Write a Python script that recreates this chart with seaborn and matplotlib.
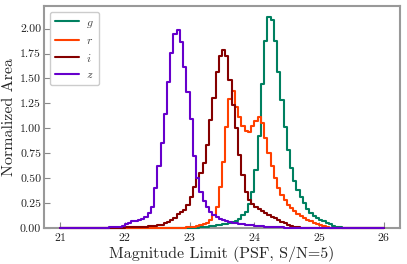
import numpy as np
import pandas as pd
import matplotlib
matplotlib.use('Agg')
import matplotlib.pyplot as plt
import seaborn as sns

# bins: 21.00 .. 26.00 in steps of 0.05 mag
bin_width = 0.05
bin_range = (21.0, 26.0)
bin_centers = np.round(np.arange(21.025, 26.0, bin_width), 3)

# normalized area per bin (100 bins each)
g_area = [0, 0, 0, 0, 0, 0, 0, 0, 0, 0,
          0, 0, 0, 0, 0, 0, 0, 0, 0, 0,
          0, 0, 0, 0, 0, 0, 0, 0, 0, 0,
          0, 0, 0, 0, 0, 0, 0, 0, 0, 0,
          0, 0, 0.005, 0.01, 0.01, 0.015, 0.02, 0.025, 0.03, 0.035,
          0.04, 0.045, 0.05, 0.06, 0.07, 0.09, 0.13, 0.16, 0.24, 0.36,
          0.58, 0.92, 1.44, 1.88, 2.12, 2.09, 1.88, 1.57, 1.28, 1.01,
          0.78, 0.60, 0.47, 0.38, 0.31, 0.25, 0.19, 0.15, 0.12, 0.10,
          0.08, 0.07, 0.05, 0.04, 0.025, 0.015, 0.01, 0.005, 0, 0,
          0, 0, 0, 0, 0, 0, 0, 0, 0, 0]

r_area = [0, 0, 0, 0, 0, 0, 0, 0, 0, 0,
          0, 0, 0, 0, 0, 0, 0, 0, 0, 0,
          0, 0, 0, 0, 0, 0, 0, 0, 0, 0,
          0, 0, 0, 0, 0, 0, 0, 0, 0.005, 0.008,
          0.01, 0.015, 0.02, 0.03, 0.04, 0.05, 0.08, 0.13, 0.21, 0.41,
          0.66, 1.01, 1.29, 1.37, 1.21, 1.11, 1.02, 0.97, 0.96, 1.02,
          1.07, 1.11, 1.05, 0.90, 0.75, 0.62, 0.50, 0.40, 0.33, 0.28,
          0.23, 0.20, 0.17, 0.14, 0.12, 0.10, 0.08, 0.07, 0.05, 0.04,
          0.03, 0.02, 0.01, 0.005, 0.003, 0, 0, 0, 0, 0,
          0, 0, 0, 0, 0, 0, 0, 0, 0, 0]

i_area = [0, 0, 0, 0, 0, 0, 0, 0, 0, 0,
          0, 0, 0, 0, 0, 0.002, 0.003, 0.004, 0.005, 0.005,
          0.006, 0.007, 0.008, 0.01, 0.012, 0.014, 0.016, 0.02, 0.022, 0.026,
          0.03, 0.035, 0.05, 0.06, 0.08, 0.10, 0.14, 0.16, 0.18, 0.23,
          0.31, 0.41, 0.50, 0.55, 0.65, 0.83, 1.08, 1.30, 1.56, 1.73,
          1.79, 1.73, 1.48, 1.23, 1.00, 0.73, 0.53, 0.36, 0.28, 0.24,
          0.21, 0.19, 0.17, 0.15, 0.13, 0.11, 0.10, 0.08, 0.06, 0.05,
          0.03, 0.02, 0.015, 0.01, 0.005, 0.005, 0.003, 0.002, 0, 0,
          0, 0, 0, 0, 0, 0, 0, 0, 0, 0,
          0, 0, 0, 0, 0, 0, 0, 0, 0, 0]

z_area = [0, 0, 0, 0, 0, 0, 0, 0, 0, 0,
          0, 0, 0, 0.002, 0.004, 0.006, 0.008, 0.01, 0.015, 0.025,
          0.04, 0.05, 0.07, 0.07, 0.08, 0.09, 0.11, 0.15, 0.21, 0.40,
          0.62, 0.85, 1.14, 1.46, 1.76, 1.95, 1.99, 1.87, 1.62, 1.36,
          1.09, 0.72, 0.50, 0.36, 0.27, 0.21, 0.16, 0.13, 0.11, 0.09,
          0.08, 0.07, 0.06, 0.05, 0.05, 0.04, 0.04, 0.035, 0.03, 0.03,
          0.025, 0.02, 0.02, 0.015, 0.015, 0.01, 0.01, 0.008, 0.006, 0.004,
          0.003, 0.002, 0, 0, 0, 0, 0, 0, 0, 0,
          0, 0, 0, 0, 0, 0, 0, 0, 0, 0,
          0, 0, 0, 0, 0, 0, 0, 0, 0, 0]

bands = ['g', 'r', 'i', 'z']
band_colors = {'g': '#008060', 'r': '#ff4000', 'i': '#850000', 'z': '#6600cc'}

df = pd.concat([
    pd.DataFrame({'band': b, 'mag': bin_centers, 'area': a})
    for b, a in zip(bands, [g_area, r_area, i_area, z_area])
], ignore_index=True)

sns.set_style('ticks')
plt.rcParams['font.family'] = ['cmr10', 'DejaVu Serif']
plt.rcParams['mathtext.fontset'] = 'cm'
plt.rcParams['axes.formatter.use_mathtext'] = True

fig, ax = plt.subplots(figsize=(4.07, 2.64), dpi=100)
fig.subplots_adjust(left=0.108, right=0.983, top=0.977, bottom=0.136)

for b in bands:
    sub = df[df['band'] == b]
    sns.histplot(data=sub, x='mag', weights='area', binwidth=bin_width,
                 binrange=bin_range, element='step', fill=False,
                 color=band_colors[b], linewidth=1.5, label='$' + b + '$',
                 zorder=3, clip_on=False, ax=ax)

ax.set_ylim(bottom=0)
ax.set_xticks([21, 22, 23, 24, 25, 26])
ax.set_yticks(np.arange(0, 2.01, 0.25))
ax.yaxis.set_major_formatter(matplotlib.ticker.FormatStrFormatter('%.2f'))
ax.set_xlabel('Magnitude Limit (PSF, S/N=5)', fontsize=11.5, labelpad=2)
ax.set_ylabel('Normalized Area', fontsize=11.5, labelpad=3)
ax.tick_params(direction='in', length=4, color='#888888', labelsize=8.5,
               labelcolor='#222222', pad=2)
for s in ax.spines.values():
    s.set_color('#999999')
    s.set_linewidth(1.5)

leg = ax.legend(loc='upper left', fontsize=8.5, handlelength=2.0,
                handletextpad=0.6, borderpad=0.45, framealpha=1,
                edgecolor='#cccccc')
for t in leg.get_texts():
    t.set_color('#444444')

fig.savefig('out.png', dpi=100)
